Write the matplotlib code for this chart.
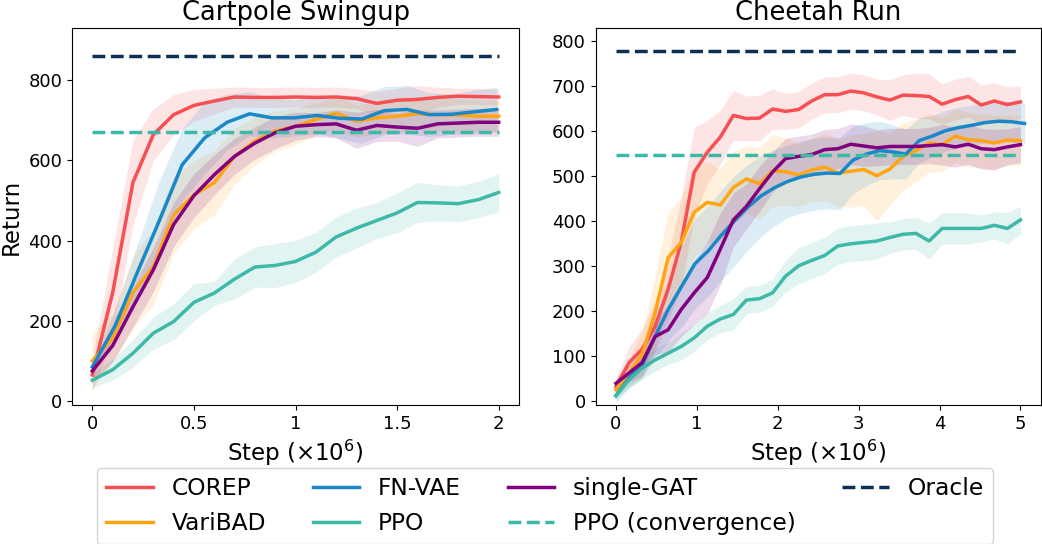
import numpy as np
import matplotlib
matplotlib.use("Agg")
import matplotlib.pyplot as plt

# ---- Cartpole Swingup (x in 1e6 steps) ----
cp_x = np.linspace(0, 2, 21)
cp_x_vae = np.linspace(0, 1.99, 19)

cp_corep = [65, 270, 545, 664, 714, 737, 748, 758, 757, 757, 758, 757, 758, 754, 742, 750, 752, 757, 760, 759, 758]
cp_corep_sd = [40, 110, 105, 65, 50, 40, 32, 25, 25, 25, 25, 25, 25, 25, 30, 30, 35, 25, 20, 20, 20]
cp_varibad = [100, 157, 270, 335, 464, 514, 544, 610, 648, 673, 685, 702, 718, 698, 706, 710, 716, 714, 713, 710, 710]
cp_varibad_sd = [70, 60, 90, 95, 95, 85, 80, 70, 60, 50, 45, 40, 40, 40, 40, 40, 40, 40, 40, 40, 40]
cp_fnvae = [85, 186, 320, 452, 589, 656, 695, 716, 706, 706, 712, 705, 703, 724, 727, 714, 715, 721, 727]
cp_fnvae_sd = [20, 40, 70, 100, 90, 90, 70, 55, 50, 45, 45, 50, 60, 60, 60, 55, 50, 55, 55]
cp_ppo = [52, 78, 119, 169, 198, 246, 269, 304, 334, 338, 348, 371, 409, 431, 450, 469, 495, 494, 492, 502, 520]
cp_ppo_sd = [20, 25, 35, 40, 45, 46, 30, 50, 50, 55, 52, 50, 50, 50, 45, 50, 50, 45, 45, 45, 48]
cp_gat = [75, 138, 235, 327, 440, 512, 564, 610, 643, 669, 685, 689, 691, 675, 687, 683, 680, 691, 693, 695, 695]
cp_gat_sd = [30, 40, 50, 55, 55, 55, 50, 45, 40, 40, 35, 30, 35, 45, 40, 35, 45, 35, 35, 35, 35]
cp_ppo_conv = 670
cp_oracle = 860

# ---- Cheetah Run ----
ch_x = np.linspace(0, 5, 32)
ch_x_vae = np.linspace(0, 5.05, 32)

ch_corep = [32, 85, 115, 165, 248, 352, 508, 552, 586, 634, 627, 628, 648, 643, 647, 666,
            680, 680, 688, 684, 675, 668, 679, 678, 676, 659, 669, 676, 657, 666, 658, 664]
ch_corep_sd = [15, 35, 45, 55, 70, 100, 100, 70, 60, 55, 50, 50, 45, 40, 40, 40,
               40, 40, 40, 40, 40, 45, 45, 50, 50, 45, 45, 45, 45, 40, 40, 35]
ch_varibad = [25, 62, 103, 196, 318, 352, 419, 441, 435, 474, 493, 482, 511, 509, 502, 513,
              519, 506, 510, 514, 500, 515, 543, 556, 573, 569, 588, 580, 578, 573, 579, 578]
ch_varibad_sd = [15, 30, 50, 80, 100, 100, 100, 90, 80, 80, 75, 80, 80, 75, 70, 70,
                 75, 75, 80, 80, 100, 80, 75, 70, 65, 60, 60, 60, 60, 60, 55, 55]
ch_fnvae = [12, 51, 80, 145, 205, 255, 305, 333, 368, 400, 430, 455, 473, 487, 497, 503,
            506, 505, 535, 548, 556, 553, 548, 578, 588, 600, 607, 612, 618, 621, 620, 616]
ch_fnvae_sd = [10, 20, 30, 50, 70, 90, 100, 100, 100, 100, 95, 90, 85, 80, 80, 80,
               80, 80, 75, 70, 65, 60, 55, 50, 45, 45, 45, 45, 45, 45, 45, 45]
ch_ppo = [11, 47, 73, 91, 106, 121, 140, 166, 182, 192, 224, 227, 240, 277, 300, 312,
          323, 344, 349, 352, 355, 363, 370, 372, 355, 383, 383, 383, 383, 390, 383, 402]
ch_ppo_sd = [15, 20, 25, 25, 25, 30, 30, 30, 30, 35, 30, 30, 30, 35, 40, 40,
             40, 40, 40, 40, 40, 35, 35, 35, 40, 35, 35, 35, 30, 30, 35, 30]
ch_gat = [39, 62, 85, 143, 158, 203, 240, 274, 337, 402, 432, 471, 508, 538, 543, 547,
          558, 560, 570, 566, 562, 565, 565, 565, 567, 569, 564, 570, 560, 558, 564, 569]
ch_gat_sd = [10, 20, 30, 40, 50, 60, 70, 80, 80, 60, 50, 50, 45, 45, 45, 45,
             45, 45, 45, 45, 40, 40, 40, 40, 40, 45, 45, 45, 45, 45, 40, 40]
ch_ppo_conv = 546
ch_oracle = 778

colors = {
    "COREP": "#f74f52",
    "VariBAD": "#ffa514",
    "FN-VAE": "#1a87c9",
    "PPO": "#3eb9a8",
    "single-GAT": "#800080",
    "Oracle": "#0f2f55",
}

fig = plt.figure(figsize=(10.42, 5.44), dpi=100)
ax1 = fig.add_axes([0.0691, 0.2555, 0.429, 0.693])
ax2 = fig.add_axes([0.5717, 0.2555, 0.427, 0.693])


def draw(ax, x, xv, data, conv, oracle):
    handles = {}
    for name in ["COREP", "VariBAD", "FN-VAE", "PPO", "single-GAT"]:
        m, s = data[name]
        xx = xv if name == "FN-VAE" else x
        m = np.array(m, dtype=float)
        s = np.array(s, dtype=float)
        ax.fill_between(xx, m - s, m + s, color=colors[name], alpha=0.15, linewidth=0)
        h, = ax.plot(xx, m, color=colors[name], lw=2.5, label=name)
        handles[name] = h
    h, = ax.plot([x[0], x[-1]], [conv, conv], ls="--", color=colors["PPO"], lw=2.5,
                 label="PPO (convergence)")
    handles["PPO (convergence)"] = h
    h, = ax.plot([x[0], x[-1]], [oracle, oracle], ls="--", color=colors["Oracle"], lw=2.5,
                 label="Oracle")
    handles["Oracle"] = h
    ax.tick_params(labelsize=13)
    ax.set_xlabel(r"Step ($\times 10^6$)", fontsize=16.5)
    return handles


hd = draw(ax1, cp_x, cp_x_vae,
          {"COREP": (cp_corep, cp_corep_sd), "VariBAD": (cp_varibad, cp_varibad_sd),
           "FN-VAE": (cp_fnvae, cp_fnvae_sd), "PPO": (cp_ppo, cp_ppo_sd),
           "single-GAT": (cp_gat, cp_gat_sd)}, cp_ppo_conv, cp_oracle)
draw(ax2, ch_x, ch_x_vae,
     {"COREP": (ch_corep, ch_corep_sd), "VariBAD": (ch_varibad, ch_varibad_sd),
      "FN-VAE": (ch_fnvae, ch_fnvae_sd), "PPO": (ch_ppo, ch_ppo_sd),
      "single-GAT": (ch_gat, ch_gat_sd)}, ch_ppo_conv, ch_oracle)

ax1.set_title("Cartpole Swingup", fontsize=18.5)
ax2.set_title("Cheetah Run", fontsize=18.5)
ax1.set_ylabel("Return", fontsize=16.5)
ax1.set_xlim(-0.1, 2.1)
ax1.set_ylim(-10, 930)
ax1.set_xticks([0, 0.5, 1, 1.5, 2])
ax1.set_xticklabels(["0", "0.5", "1", "1.5", "2"])
ax1.set_yticks([0, 200, 400, 600, 800])
ax2.set_xlim(-0.25, 5.25)
ax2.set_ylim(-9, 828)
ax2.set_yticks(range(0, 801, 100))

order = ["COREP", "VariBAD", "FN-VAE", "PPO", "single-GAT", "PPO (convergence)", "Oracle"]
fig.legend([hd[k] for k in order], order, loc="upper center", ncol=4, fontsize=16.8,
           bbox_to_anchor=(545 / 1042, 1 - 468 / 544), borderaxespad=0,
           handletextpad=0.8, columnspacing=2.0)

fig.savefig("out.png", dpi=100)
